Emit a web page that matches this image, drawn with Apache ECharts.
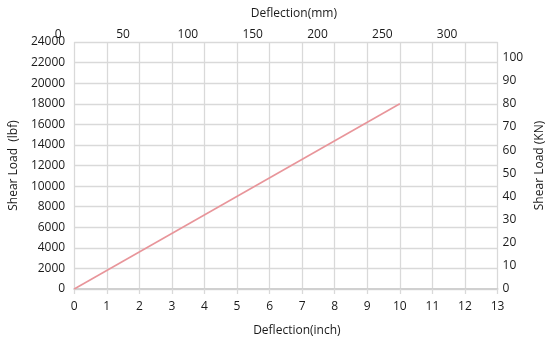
<!DOCTYPE html>
<html>
<head>
<meta charset="utf-8">
<script src="https://cdn.jsdelivr.net/npm/echarts@6/dist/echarts.min.js"></script>
<style>
  html, body { margin: 0; padding: 0; background: #fff; }
  #chart { width: 554px; height: 344px; }
</style>
</head>
<body>
<div id="chart"></div>
<script>
// Shear load vs deflection, dual units
const deflectionInch = [0, 10];
const shearLoadLbf = [0, 18000];

const inchMax = 13;
const inchStep = 1;
const mmMax = 326.5;
const mmStep = 50;
const lbfMax = 24000;
const lbfStep = 2000;
const knMax = 106.76;       // 24000 lbf expressed in kN
const knStep = 10;

const font = '"Open Sans", "Liberation Sans", sans-serif';
const textColor = '#1a1a1a';
const gridColor = '#d9d9d9';

const chart = echarts.init(document.getElementById('chart'), null, { renderer: 'canvas' });

const baseLabel = { color: textColor, fontFamily: font, fontSize: 12 };
const nameStyle = { color: textColor, fontFamily: font, fontSize: 12 };
const plain = v => String(v);

chart.setOption({
  animation: false,
  grid: { left: 74, right: 50, top: 42, bottom: 55, containLabel: false },
  xAxis: [
    {
      type: 'value',
      position: 'bottom',
      min: 0, max: inchMax, interval: inchStep,
      name: 'Deflection(inch)',
      nameLocation: 'middle',
      nameGap: 36,
      nameTextStyle: Object.assign({ padding: [0, 0, 0, 22] }, nameStyle),
      axisLine: { show: true, lineStyle: { color: '#d0d0d0', width: 2 } },
      axisTick: { show: true, length: 5, lineStyle: { color: gridColor, width: 1.3 } },
      axisLabel: Object.assign({ margin: 12, formatter: plain }, baseLabel),
      splitLine: { show: true, lineStyle: { color: gridColor, width: 1.3 } }
    },
    {
      type: 'value',
      position: 'top',
      min: 0, max: mmMax, interval: mmStep,
      name: 'Deflection(mm)',
      nameLocation: 'middle',
      nameGap: 22,
      nameTextStyle: Object.assign({ padding: [0, 0, 0, 16] }, nameStyle),
      axisLine: { show: false },
      axisTick: { show: false },
      axisLabel: Object.assign({
        margin: 1,
        padding: [0, 32, 0, 0],
        showMaxLabel: false,
        formatter: v => (v % mmStep === 0 ? String(v) : '')
      }, baseLabel),
      splitLine: { show: false }
    }
  ],
  yAxis: [
    {
      type: 'value',
      position: 'left',
      min: 0, max: lbfMax, interval: lbfStep,
      name: 'Shear Load  (lbf)',
      nameLocation: 'middle',
      nameGap: 51,
      nameRotate: 90,
      nameTextStyle: nameStyle,
      axisLine: { show: false },
      axisTick: { show: false },
      axisLabel: Object.assign({ margin: 9, formatter: plain }, baseLabel),
      splitLine: { show: true, lineStyle: { color: gridColor, width: 1.3 } }
    },
    {
      type: 'value',
      position: 'right',
      min: 0, max: knMax, interval: knStep,
      name: 'Shear Load (KN)',
      nameLocation: 'middle',
      nameGap: 30,
      nameRotate: 90,
      nameTextStyle: nameStyle,
      axisLine: { show: false },
      axisTick: { show: false },
      axisLabel: Object.assign({
        margin: 5,
        showMaxLabel: false,
        formatter: v => (v % knStep === 0 ? String(v) : '')
      }, baseLabel),
      splitLine: { show: false }
    }
  ],
  series: [
    {
      type: 'line',
      xAxisIndex: 0,
      yAxisIndex: 0,
      data: deflectionInch.map((x, i) => [x, shearLoadLbf[i]]),
      symbol: 'none',
      lineStyle: { color: '#e8959a', width: 1.6 }
    }
  ]
});
</script>
</body>
</html>
